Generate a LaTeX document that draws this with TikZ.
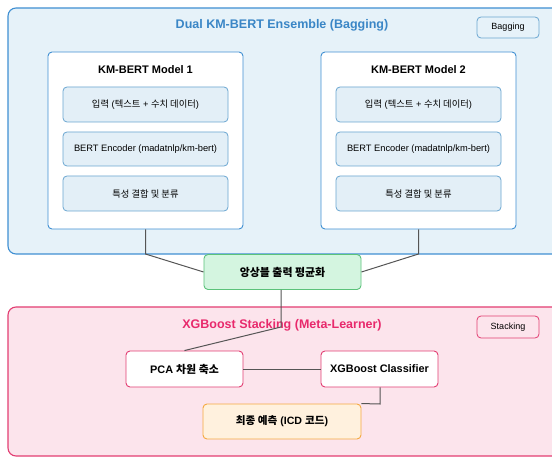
\documentclass[tikz,border=0pt]{standalone}
\usepackage{fontspec}
\setmainfont{Liberation Sans}
\newfontfamily\kr{Noto Sans CJK KR}
\definecolor{bluefill}{HTML}{E6F2F9}
\definecolor{blueline}{HTML}{3F8FD2}
\definecolor{bluetitle}{HTML}{3A86C6}
\definecolor{subfill}{HTML}{E3EFF7}
\definecolor{subline}{HTML}{6AA6D1}
\definecolor{greenfill}{HTML}{D4F5E0}
\definecolor{greenline}{HTML}{5BC27A}
\definecolor{pinkfill}{HTML}{FCE4EC}
\definecolor{pinkline}{HTML}{E23D72}
\definecolor{pinktitle}{HTML}{E8296C}
\definecolor{orangefill}{HTML}{FFF1DE}
\definecolor{orangeline}{HTML}{F5A940}
\definecolor{conn}{HTML}{555555}
\tikzset{
  panel/.style={rounded corners=8pt, line width=1.1pt},
  modelbox/.style={draw=blueline, fill=white, rounded corners=4pt, line width=0.9pt},
  subbox/.style={draw=subline, fill=subfill, rounded corners=4pt, line width=0.8pt, font=\fontsize{9.3}{11}\selectfont},
  tagbox/.style={rounded corners=4pt, line width=0.8pt, fill=none, font=\fontsize{9}{11}\selectfont},
  pinkbox/.style={draw=pinkline, fill=white, rounded corners=4pt, line width=0.9pt, font=\bfseries\fontsize{10.9}{13}\selectfont},
  connector/.style={draw=conn, line width=1pt},
}
\begin{document}
\begin{tikzpicture}[x=1pt,y=-1pt]
\useasboundingbox (0,0) rectangle (552,457);
\begin{scope}
\clip (0,0) rectangle (552,457);
% blue panel
\draw[panel, draw=blueline, fill=bluefill] (8,8) rectangle (560,254);
\node[font=\bfseries\fontsize{12.5}{15}\selectfont, text=bluetitle] (t1) at (282,25) {Dual KM-BERT Ensemble (Bagging)};
\node[tagbox, draw=subline, minimum width=62pt, minimum height=21pt] (bag) at (508,27.5) {Bagging};
% models
\foreach \m/\x/\n in {1/145.5/m1, 2/418.5/m2}{
  \node[modelbox, minimum width=195pt, minimum height=177pt] (\n) at (\x,140.5) {};
  \node[font=\bfseries\fontsize{11}{13}\selectfont] (\n t) at (\x,70) {KM-BERT Model \m};
  \node[subbox, minimum width=165pt, minimum height=35pt] (\n a) at (\x,104.5) {{\kr 입력} ({\kr 텍스트} + {\kr 수치 데이터})};
  \node[subbox, minimum width=165pt, minimum height=34pt] (\n b) at (\x,149) {BERT Encoder (madatnlp/km-bert)};
  \node[subbox, minimum width=165pt, minimum height=35pt] (\n c) at (\x,193.5) {\kr 특성 결합 및 분류};
}
% pink panel
\draw[panel, draw=pinkline, fill=pinkfill] (8,307) rectangle (560,456);
\node[font=\bfseries\fontsize{12.5}{15}\selectfont, text=pinktitle] (t2) at (282,325) {XGBoost Stacking (Meta-Learner)};
\node[tagbox, draw=pinkline, minimum width=62pt, minimum height=22pt] (stk) at (508,327) {Stacking};
% ensemble
\node[draw=greenline, fill=greenfill, rounded corners=4pt, line width=0.9pt, minimum width=157pt, minimum height=35pt, font=\fontsize{10.9}{13}\selectfont] (ens) at (282.5,272) {\kr\bfseries 앙상블 출력 평균화};
\node[pinkbox, minimum width=117pt, minimum height=36pt] (pca) at (184.5,369) {PCA {\kr 차원 축소}};
\node[pinkbox, minimum width=117pt, minimum height=36pt] (xgb) at (379.5,369) {XGBoost Classifier};
\node[draw=orangeline, fill=orangefill, rounded corners=4pt, line width=0.9pt, minimum width=158pt, minimum height=35pt, font=\bfseries\fontsize{10.6}{13}\selectfont] (fin) at (282,421.5) {{\kr 최종 예측} (ICD {\kr 코드})};
% connectors
\coordinate (j1) at (145.5,254);
\coordinate (j2) at (418.5,254);
\coordinate (j3) at (281,327);
\coordinate (j4) at (380,404);
\draw[connector] (m1.south) -- (j1) -- (ens.west);
\draw[connector] (m2.south) -- (j2) -- (ens.east);
\draw[connector] (ens.south -| j3) -- (j3) -- (pca.north);
\draw[connector] (pca.east) -- (xgb.west);
\draw[connector] (xgb.south -| j4) -- (j4) -- (fin.north east);
\end{scope}
\end{tikzpicture}
\end{document}
